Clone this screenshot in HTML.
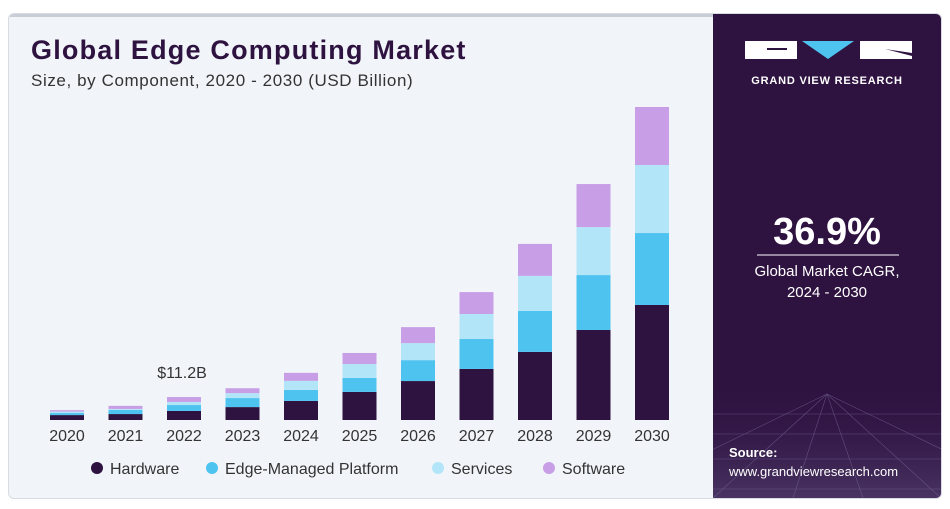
<!DOCTYPE html>
<html><head><meta charset="utf-8"><style>
body{margin:0;width:950px;height:509px;background:#fff;font-family:"Liberation Sans",sans-serif;overflow:hidden}
#card{position:absolute;left:8px;top:13px;width:932px;height:484px;border:1px solid #d8dce2;border-radius:6px;overflow:hidden;background:#f1f5f9}
#right{position:absolute;left:704px;top:0;width:228px;height:484px;background:#2e1240}
</style></head><body>
<div id="card">
<div style="position:absolute;left:0;top:0;width:704px;height:3px;background:#c9ced6"></div>
<div style="position:absolute;left:22px;top:21px;font-size:27px;letter-spacing:1.2px;font-weight:bold;color:#2e1240">Global Edge Computing Market</div>
<div style="position:absolute;left:22px;top:57px;font-size:17px;letter-spacing:0.6px;color:#333">Size, by Component, 2020 - 2030 (USD Billion)</div>
<div id="right">
<svg width="228" height="484" style="position:absolute;left:0;top:0">
<defs><linearGradient id="g" x1="0" y1="0" x2="0" y2="1"><stop offset="0" stop-color="#2e1240" stop-opacity="0"/><stop offset="1" stop-color="#5a4a7a"/></linearGradient></defs>
<rect x="0" y="360" width="228" height="124" fill="url(#g)" opacity="0.6"/>
<g stroke="#7d6fa0" stroke-width="0.6" opacity="0.6">
<line x1="0" y1="400" x2="228" y2="400"/><line x1="0" y1="420" x2="228" y2="420"/><line x1="0" y1="445" x2="228" y2="445"/><line x1="0" y1="475" x2="228" y2="475"/>
<line x1="114" y1="380" x2="-100" y2="484"/><line x1="114" y1="380" x2="0" y2="484"/><line x1="114" y1="380" x2="80" y2="484"/><line x1="114" y1="380" x2="150" y2="484"/><line x1="114" y1="380" x2="228" y2="484"/><line x1="114" y1="380" x2="330" y2="484"/></g>
<g>
<rect x="32" y="27" width="52" height="18" fill="#fff"/><rect x="54" y="34" width="20" height="2" fill="#2e1240"/>
<polygon points="89,27 141,27 115,45" fill="#4fc3f0"/>
<rect x="147" y="27" width="52" height="18" fill="#fff"/><polygon points="172,35 199,42 199,39" fill="#2e1240"/>
</g>
<text x="114" y="70" fill="#fff" font-size="11" font-weight="bold" text-anchor="middle" letter-spacing="0.8" font-family="Liberation Sans">GRAND VIEW RESEARCH</text>
<text x="114" y="230" fill="#fff" font-size="38" font-weight="bold" text-anchor="middle" font-family="Liberation Sans">36.9%</text>
<line x1="44" y1="241" x2="186" y2="241" stroke="#fff" stroke-width="1"/>
<text x="114" y="262" fill="#fff" font-size="15" text-anchor="middle" font-family="Liberation Sans">Global Market CAGR,</text>
<text x="114" y="283" fill="#fff" font-size="15" text-anchor="middle" font-family="Liberation Sans">2024 - 2030</text>
<text x="16" y="443" fill="#fff" font-size="13" font-weight="bold" font-family="Liberation Sans">Source:</text>
<text x="16" y="462" fill="#fff" font-size="13" font-family="Liberation Sans">www.grandviewresearch.com</text>
</svg></div>
</div>
<svg id="chart" width="710" height="509" style="position:absolute;left:0;top:0"></svg>
<script>
const years=["2020","2021","2022","2023","2024","2025","2026","2027","2028","2029","2030"];
const hardware=[2.4,2.9,4.4,6.3,9.3,13.7,19.0,24.9,33.2,43.9,56.1];
const platform=[1.0,2.0,2.9,4.4,5.4,6.8,10.2,14.6,20.0,26.8,35.1];
const services=[0.7,0.5,1.5,2.4,4.4,6.8,8.3,12.2,17.1,23.4,33.2];
const software=[0.7,1.5,2.4,2.4,3.9,5.4,7.8,10.7,15.6,21.0,28.3];
const seriesNames=["Hardware","Edge-Managed Platform","Services","Software"];
const colors=["#2e1240","#4fc3f0","#b3e5f9","#c89ee6"];
const annotation="$11.2B";const annotIndex=2;
const NS="http://www.w3.org/2000/svg";const svg=document.getElementById('chart');
const base=420,pxPer=2.05,x0=67,step=58.5,bw=34;
const xs=i=>x0+i*step, ys=v=>v*pxPer;
function mk(t,a){const e=document.createElementNS(NS,t);for(const k in a)e.setAttribute(k,a[k]);svg.appendChild(e);return e;}
const all=[hardware,platform,services,software];
years.forEach((y,i)=>{let acc=0;
all.forEach((s,j)=>{const h=ys(s[i]);const r=mk('rect',{x:xs(i)-bw/2,y:base-ys(acc)-h,width:bw,height:h,fill:colors[j]});

acc+=s[i];});
const t=mk('text',{x:xs(i),y:441,'text-anchor':'middle','font-size':16,fill:'#333','font-family':'Liberation Sans'});t.textContent=y;


if(i===annotIndex){const tot=all.reduce((a,s)=>a+s[i],0);const a=mk('text',{x:xs(i)-2,y:base-ys(tot)-19,'text-anchor':'middle','font-size':16,fill:'#333','font-family':'Liberation Sans'});a.textContent=annotation;

}
});
const lx=[97,212,438,549];
seriesNames.forEach((n,j)=>{const c=mk('circle',{cx:lx[j],cy:468,r:6,fill:colors[j]});


const t=mk('text',{x:lx[j]+13,y:474,'font-size':16,fill:'#333','font-family':'Liberation Sans'});t.textContent=n;

});
</script>
</body></html>
